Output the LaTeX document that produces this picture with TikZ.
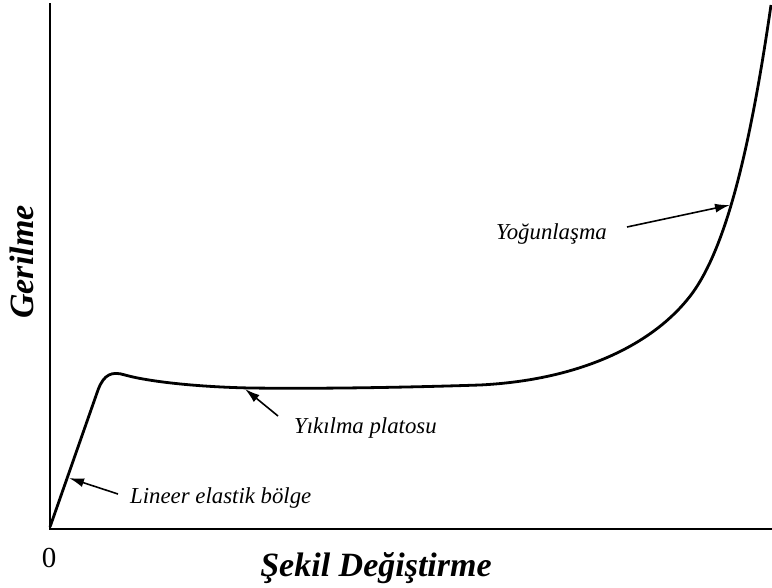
\documentclass[tikz,border=0pt]{standalone}
\usepackage{fontspec}
\setmainfont{Liberation Serif}
\usetikzlibrary{arrows.meta}
\tikzset{
  axisline/.style={line width=2.4pt, line cap=rect},
  curveline/.style={line width=2.8pt, line join=round},
  pointer/.style={line width=1.6pt, -{Latex[length=15pt,width=9pt]}},
  lbl/.style={font=\fontsize{22.8}{27}\selectfont\itshape, anchor=base west, inner sep=0pt},
  axtitle/.style={font=\fontsize{34}{40}\selectfont\bfseries\itshape, inner sep=0pt}
}
\begin{document}
\begin{tikzpicture}[x=1pt,y=-1pt]
\useasboundingbox (0,0) rectangle (772,588);
% axes
\coordinate (O) at (50,529);
\coordinate (ytop) at (50,4);
\coordinate (xend) at (771,529);
\draw[axisline] (ytop) -- (O) -- (xend);
% curve
\coordinate (c0) at (50,527);
\draw[curveline] (c0) -- (98,390) .. controls (104,374) and (112,371) .. (125,375)
  .. controls (150,382) and (200,387) .. (250,388)
  .. controls (330,389) and (420,387) .. (480,385)
  .. controls (580,380) and (650,345) .. (687,300)
  .. controls (725,255) and (750,150) .. (771,5);
% labels
\node[lbl] (lin) at (130,503) {Lineer elastik bölge};
\node[lbl] (yik) at (294,433) {Yıkılma platosu};
\node[lbl] (yog) at (496,240) {Yoğunlaşma};
% arrows
\coordinate (linTail) at (118,494);
\coordinate (linTip) at (69,478);
\coordinate (yikTail) at (278,416);
\coordinate (yikTip) at (245,389);
\coordinate (yogTail) at (627,227);
\coordinate (yogTip) at (730,205);
\draw[pointer] (linTail) -- (linTip);
\draw[pointer] (yikTail) -- (yikTip);
\draw[pointer] (yogTail) -- (yogTip);
% axis titles
\node[font=\fontsize{29}{34}\selectfont, anchor=base, inner sep=0pt] (zero) at (49,567) {0};
\node[axtitle, anchor=base] (xt) at (376,576) {Şekil Değiştirme};
\node[axtitle, anchor=base, rotate=90] (yt) at (34,262) {Gerilme};
\end{tikzpicture}
\end{document}
